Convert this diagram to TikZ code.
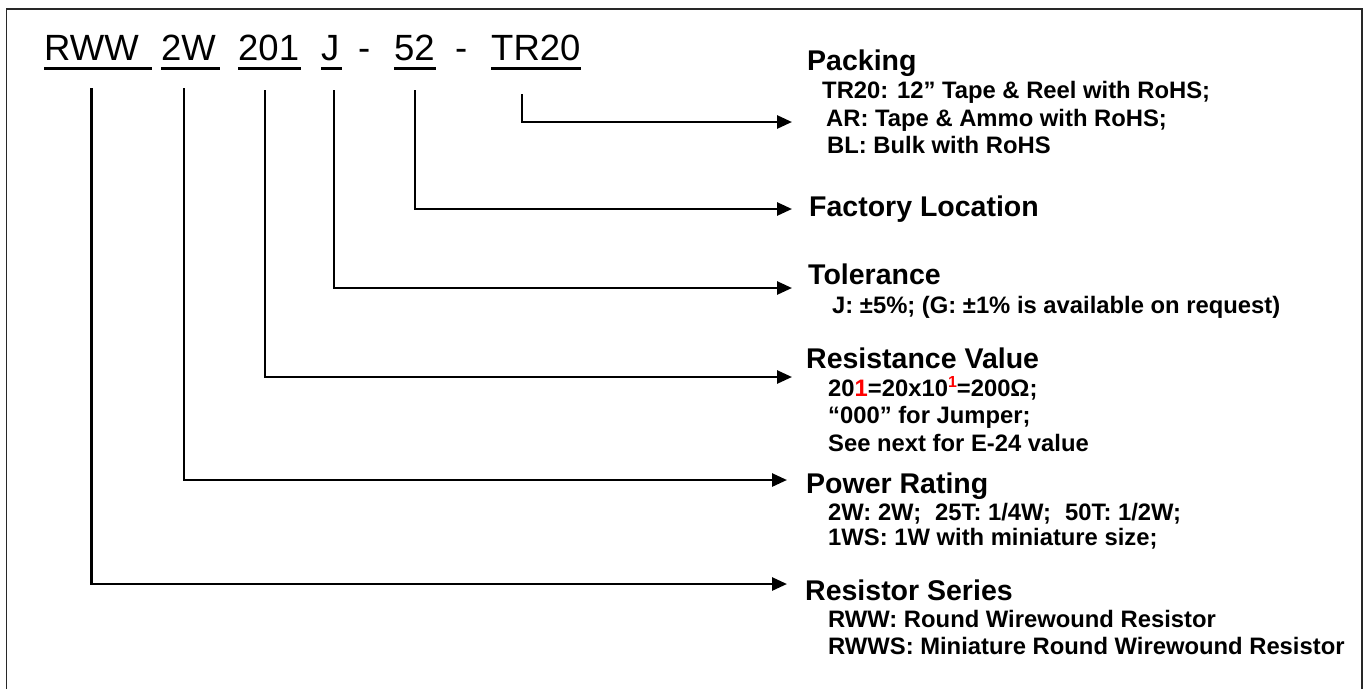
\documentclass[tikz,border=0pt]{standalone}
\usepackage{fontspec}
\setmainfont{Liberation Sans}
\usetikzlibrary{arrows.meta}
\definecolor{framegray}{RGB}{40,40,40}
\begin{document}
\begin{tikzpicture}[x=1pt,y=-1pt,
 code/.style={anchor=base west,inner sep=0pt,font=\fontsize{36.5}{40}\selectfont},
 ttl/.style={anchor=base west,inner sep=0pt,font=\fontsize{28.5}{32}\selectfont\bfseries},
 sub/.style={anchor=base west,inner sep=0pt,font=\fontsize{23.8}{26}\selectfont\bfseries},
 conn/.style={line width=2.7pt,line join=miter,-{Triangle[length=15pt,width=13pt]}},
 uline/.style={line width=2.8pt}]
\useasboundingbox (0,0) rectangle (1367,689);
\draw[line width=1.3pt,framegray] (6.5,689) -- (6.5,9) -- (1362,9) -- (1362,689);

% part-number codes
\node[code] (rww) at (44,60) {RWW};
\node[code] (pw) at (161,60) {2W};
\node[code] (res) at (238,60) {201};
\node[code] (tol) at (321,60) {J};
\node[code] (d1) at (358,60) {-};
\node[code] (fac) at (394,60) {52};
\node[code] (d2) at (455,60) {-};
\node[code] (pk) at (491,60) {TR20};

% underlines
\draw[uline] ([yshift=-8.5pt]rww.base west) -- ([yshift=-8.5pt,xshift=13pt]rww.base east);
\draw[uline] ([yshift=-8.5pt]pw.base west) -- ([yshift=-8.5pt,xshift=4pt]pw.base east);
\draw[uline] ([yshift=-8.5pt]res.base west) -- ([yshift=-8.5pt,xshift=2pt]res.base east);
\draw[uline] ([yshift=-8.5pt]tol.base west) -- ([yshift=-8.5pt,xshift=2pt]tol.base east);
\draw[uline] ([yshift=-8.5pt]fac.base west) -- ([yshift=-8.5pt,xshift=1pt]fac.base east);
\draw[uline] ([yshift=-8.5pt]pk.base west) -- ([yshift=-8.5pt]pk.base east);

% connector start points
\coordinate (vrww) at (91.5,88);
\coordinate (vpw) at (184,88);
\coordinate (vres) at (265,90);
\coordinate (vtol) at (334,90);
\coordinate (vfac) at (415,90);
\coordinate (vpk) at (522,94);

% arrow tips
\coordinate (apk) at (792,122);
\coordinate (afac) at (792,209);
\coordinate (atol) at (792,288);
\coordinate (ares) at (792,377);
\coordinate (apw) at (787,480);
\coordinate (arww) at (787,584);

\draw[conn] (vpk) |- (apk);
\draw[conn] (vfac) |- (afac);
\draw[conn] (vtol) |- (atol);
\draw[conn] (vres) |- (ares);
\draw[conn] (vpw) |- (apw);
\draw[conn] (vrww) |- (arww);

% Packing
\node[ttl] (tpk) at (807,70) {Packing};
\node[sub] (pk1) at (822,98) {TR20: 12” Tape \& Reel with RoHS;};
\node[sub] (pk2) at (826,126) {AR: Tape \& Ammo with RoHS;};
\node[sub] (pk3) at (827,153) {BL: Bulk with RoHS};

% Factory
\node[ttl] (tfac) at (809,216) {Factory Location};

% Tolerance
\node[ttl] (ttol) at (808,284) {Tolerance};
\node[sub] (tol1) at (832,313) {J: ±5\%; (G: ±1\% is available on request)};

% Resistance
\node[ttl] (tres) at (806,368) {Resistance Value};
\node[sub] (res1) at (828,396.5) {20\textcolor{red}{1}=20x10\raisebox{9pt}{\textcolor{red}{\fontsize{16}{16}\selectfont 1}}=200Ω;};
\node[sub] (res2) at (828,423.5) {“000” for Jumper;};
\node[sub] (res3) at (828,451) {See next for E-24 value};

% Power
\node[ttl] (tpw) at (806,493) {Power Rating};
\node[sub] (pw1) at (828,520) {2W: 2W;\hspace{14pt}25T: 1/4W;\hspace{14pt}50T: 1/2W;};
\node[sub] (pw2) at (828,545) {1WS: 1W with miniature size;};

% Resistor Series
\node[ttl] (trww) at (805,600) {Resistor Series};
\node[sub] (rww1) at (828,627) {RWW: Round Wirewound Resistor};
\node[sub] (rww2) at (828,654) {RWWS: Miniature Round Wirewound Resistor};
\end{tikzpicture}
\end{document}
